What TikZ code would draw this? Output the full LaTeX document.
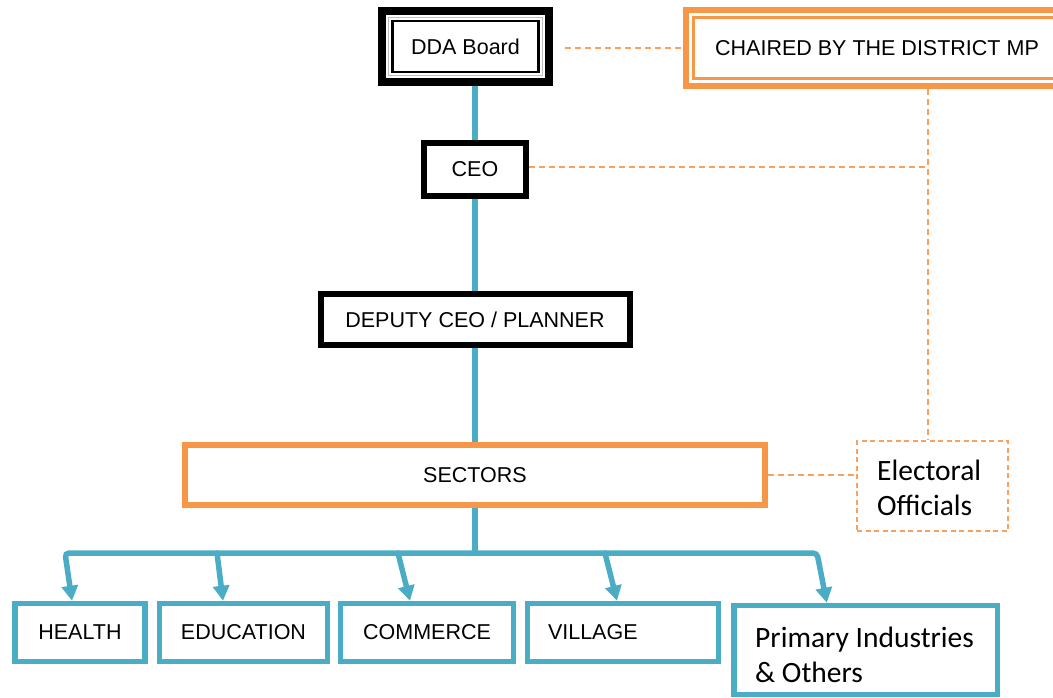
\documentclass[tikz,border=0pt]{standalone}
\usepackage{fontspec}
\setmainfont{Liberation Sans}
\newfontfamily\calfont{Carlito}
\usetikzlibrary{arrows.meta}
\definecolor{blu}{HTML}{4BACC6}
\definecolor{org}{HTML}{F79646}
\definecolor{orgl}{HTML}{F8A262}
\begin{document}
\begin{tikzpicture}[x=1pt,y=-1pt,
  box/.style={draw, rectangle, inner sep=0pt, font=\fontsize{21.5}{25}\selectfont, fill=white},
  blk/.style={box, line width=6pt},
  bbox/.style={box, draw=blu, line width=5.5pt, minimum height=58pt},
  bus/.style={blu, line width=5.5pt},
  tipst/.style={-{Triangle[width=16pt,length=15pt]}},
  dl/.style={orgl, line width=1.5pt, dash pattern=on 6pt off 4pt},
  cal/.style={font=\calfont\fontsize{29.5}{35}\selectfont, inner sep=0pt, anchor=base west}
]
\useasboundingbox (0,0) rectangle (1053,697);

% top row
\node[box, line width=8pt, minimum width=167pt, minimum height=71pt] (dda) at (465.5,46.5) {DDA Board};
\draw[gray!50, line width=1.2pt] ([shift={(10.5,-10.5)}]dda.south west) rectangle ([shift={(-10.5,10.5)}]dda.north east);
\draw[black, line width=2.2pt] ([shift={(14.5,-14)}]dda.south west) rectangle ([shift={(-14.5,14)}]dda.north east);

\node[box, draw=org, line width=6pt, minimum width=382pt, minimum height=76pt] (chair) at (877,48) {CHAIRED BY THE DISTRICT MP};
\draw[org, line width=2.5pt] ([shift={(10.5,-10.5)}]chair.south west) rectangle ([shift={(-10.5,10.5)}]chair.north east);

\node[blk, minimum width=102pt, minimum height=53pt] (ceo) at (475,169.5) {CEO};
\node[blk, minimum width=309pt, minimum height=51pt] (dep) at (475,319.5) {DEPUTY CEO / PLANNER};
\node[box, draw=org, line width=6pt, minimum width=580pt, minimum height=60pt] (sec) at (475,475) {SECTORS};

\node[draw=orgl, line width=1.4pt, dash pattern=on 5pt off 3.5pt, minimum width=151pt, minimum height=90pt, inner sep=0pt] (elec) at (932.5,486) {};
\node[cal] (el1) at (877,480) {Electoral};
\node[cal] (el2) at (877,515) {Officials};

% bottom row
\node[bbox, minimum width=130.4pt] (health) at (80,632.5) {HEALTH};
\node[bbox, minimum width=168pt] (edu) at (243.5,632.5) {EDUCATION};
\node[bbox, minimum width=172.7pt] (com) at (427,632.5) {COMMERCE};
\node[bbox, text width=150pt, align=left, inner xsep=20.5pt] (vil) at (623,632.5) {VILLAGE};
\node[bbox, minimum width=263.5pt, minimum height=89pt] (prim) at (865.75,650) {};
\node[cal] (p1) at (755,647) {Primary Industries};
\node[cal] (p2) at (755,682) {\& Others};

% blue connectors
\draw[bus] (ceo.north) -- (ceo.north |- dda.south);
\draw[bus] (ceo.south) -- (dep.north);
\draw[bus] (dep.south) -- (sec.north);
\coordinate (b1) at (65,553);
\coordinate (b2) at (217,553);
\coordinate (b3) at (398,553);
\coordinate (b4) at (605,553);
\coordinate (b5) at (817,553);
\draw[bus] (sec.south) -- (sec.south |- b1);
\draw[bus, {Triangle[width=16pt,length=15pt]}-{Triangle[width=16pt,length=15pt]}, rounded corners=4pt]
  ([xshift=-8pt]health.north) -- (b1) -- (b5) -- ([xshift=-39pt]prim.north);
\draw[bus, tipst, line cap=round] (b2) -- ([xshift=-20.5pt]edu.north);
\draw[bus, tipst, line cap=round] (b3) -- ([xshift=-17pt]com.north);
\draw[bus, tipst, line cap=round] (b4) -- ([xshift=-6pt]vil.north);

% dashed orange connectors
\coordinate (d1) at ([xshift=12pt]dda.east);
\coordinate (vx) at (928,0);
\draw[dl] (d1 |- chair.west) -- (chair.west);
\draw[dl] (vx |- chair.south) -- (vx |- elec.north);
\draw[dl] ([yshift=2.5pt]ceo.east) -- ([yshift=2.5pt]ceo.east -| vx);
\draw[dl] (sec.east) -- (sec.east -| elec.west);
\end{tikzpicture}
\end{document}
